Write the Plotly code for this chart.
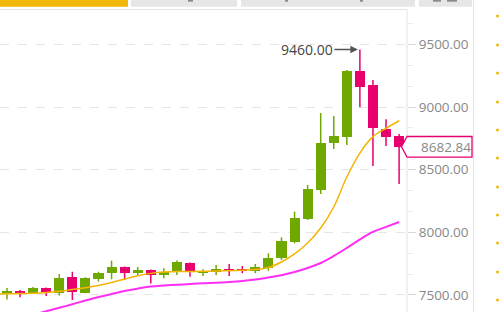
import plotly.graph_objects as go

# ---------------- data ----------------
idx = list(range(31))
opens = [7505, 7531, 7515, 7553, 7513, 7645, 7519, 7627, 7672, 7720, 7675, 7699, 7659, 7685, 7752, 7679,
         7679, 7707, 7705, 7691, 7712, 7792, 7925, 8104, 8338, 8711, 8764, 9288, 9177, 8825, 8769]
closes = [7531, 7510, 7553, 7523, 7639, 7526, 7633, 7677, 7725, 7677, 7699, 7659, 7685, 7765, 7679, 7693,
          7707, 7691, 7693, 7720, 7797, 7930, 8112, 8343, 8716, 8772, 9288, 9163, 8831, 8764, 8682.84]
highs = [7555, 7539, 7563, 7559, 7667, 7685, 7641, 7685, 7773, 7727, 7723, 7703, 7712, 7775, 7759, 7705,
         7739, 7747, 7731, 7747, 7832, 7960, 8165, 8378, 8953, 8929, 9296, 9460, 9216, 8903, 8785]
lows = [7463, 7481, 7507, 7491, 7495, 7459, 7513, 7607, 7625, 7619, 7651, 7591, 7633, 7659, 7645, 7651,
        7659, 7651, 7673, 7673, 7693, 7779, 7912, 8098, 8306, 8665, 8697, 8998, 8530, 8689, 8386]

ma_x = list(range(-1, 31))
ma_fast = [7507, 7509, 7511, 7513, 7519, 7529, 7543, 7557, 7575, 7599, 7627, 7653, 7672, 7683, 7687, 7687,
           7688, 7691, 7693, 7697, 7703, 7719, 7763, 7827, 7915, 8034, 8202, 8442, 8633, 8764, 8831, 8891]
ma_slow = [7260, 7286, 7313, 7341, 7369, 7397, 7425, 7455, 7483, 7507, 7531, 7550, 7567, 7575, 7581, 7587,
           7593, 7597, 7603, 7611, 7623, 7639, 7657, 7683, 7715, 7755, 7811, 7875, 7943, 8003, 8043, 8082]

tick_vals = [7500, 8000, 8500, 9000, 9500]
tick_text = ["7500.00", "8000.00", "8500.00", "9000.00", "9500.00"]
peak_label = "9460.00"
peak_index = 27
peak_value = 9460
last_price = 8682.84
last_label = "8682.84"

# ---------------- style ----------------
UP = "#6fa800"
DOWN = "#e8006f"
FAST = "#f5b400"
SLOW = "#ff2ef5"
W, H = 500, 312
PL, PR, PT, PB = 0, 93, 10, 0
PW, PH = W - PL - PR, H - PT - PB


def px(x):
    return (x - PL) / PW


def py(y):
    return (H - PB - y) / PH


fig = go.Figure()

# wicks
for col, cond in ((UP, lambda o, c: c >= o), (DOWN, lambda o, c: c < o)):
    wx, wy = [], []
    for i, o, c, h, l in zip(idx, opens, closes, highs, lows):
        if cond(o, c):
            wx += [i, i, None]
            wy += [l, h, None]
    fig.add_trace(go.Scatter(x=wx, y=wy, mode="lines", line=dict(color=col, width=1.5),
                             hoverinfo="skip", showlegend=False))

# bodies
base = [min(o, c) for o, c in zip(opens, closes)]
height = [max(abs(c - o), 8) for o, c in zip(opens, closes)]
colors = [UP if c >= o else DOWN for o, c in zip(opens, closes)]
fig.add_trace(go.Bar(x=idx, y=height, base=base, width=0.77, marker=dict(color=colors, line=dict(width=0)),
                     showlegend=False, hoverinfo="skip"))

# moving averages
fig.add_trace(go.Scatter(x=ma_x, y=ma_fast, mode="lines", line=dict(color=FAST, width=1.5, shape="spline"),
                         showlegend=False, hoverinfo="skip"))
fig.add_trace(go.Scatter(x=ma_x, y=ma_slow, mode="lines", line=dict(color=SLOW, width=2, shape="spline"),
                         showlegend=False, hoverinfo="skip"))

x0 = -7 / 13.07
x1 = (407 - 7) / 13.07
ytop = 9500 + (44.5 - PT) / 0.1252
ybot = 9500 - (H - 44.5) / 0.1252

shapes = []
# tab bar
shapes.append(dict(type="rect", xref="paper", yref="paper", x0=px(0), x1=px(128), y0=py(0), y1=py(6.7),
                   fillcolor="#f0b90b", line=dict(width=0), layer="above"))
for a, b in ((131, 237), (241, 415), (419, 472)):
    shapes.append(dict(type="rect", xref="paper", yref="paper", x0=px(a), x1=px(b), y0=py(0), y1=py(6.7),
                       fillcolor="#e6e6e6", line=dict(width=0), layer="above"))
for a, b in ((188, 193), (285, 288), (360, 363), (433, 441), (447, 457)):
    shapes.append(dict(type="rect", xref="paper", yref="paper", x0=px(a), x1=px(b), y0=py(0), y1=py(1.7),
                       fillcolor="#8a8a8a", line=dict(width=0), layer="above"))
# panel borders
shapes.append(dict(type="line", xref="paper", yref="paper", x0=px(0), x1=px(407), y0=py(9.5), y1=py(9.5),
                   line=dict(color="#e3e3e3", width=1)))
shapes.append(dict(type="line", xref="paper", yref="paper", x0=px(407), x1=px(407), y0=py(9.5), y1=py(312),
                   line=dict(color="#e3e3e3", width=1)))
shapes.append(dict(type="line", xref="paper", yref="paper", x0=px(473.5), x1=px(473.5), y0=py(0), y1=py(312),
                   line=dict(color="#e3e3e3", width=1)))
# bullet dots on the far right
for yy in (16, 45, 73, 102, 130, 158, 187, 215, 243, 272, 300):
    shapes.append(dict(type="circle", xref="paper", yref="paper", x0=px(496), x1=px(499), y0=py(yy - 1.5),
                       y1=py(yy + 1.5), fillcolor="#f0b90b", line=dict(width=0)))
# last price pointer box
shapes.append(dict(type="path", xref="paper", yref="y", xsizemode="pixel", ysizemode="pixel",
                   xanchor=1, yanchor=last_price,
                   path="M -5.5,0 L 0,10.3 L 65,10.3 L 65,-10.3 L 0,-10.3 Z",
                   fillcolor="white", line=dict(color=DOWN, width=1.3), layer="above"))

annotations = [
    dict(x=peak_index, y=peak_value, xref="x", yref="y", text=peak_label, showarrow=True,
         ax=-53, ay=0, arrowhead=2, arrowsize=1, arrowwidth=1.5, arrowcolor="#555", standoff=2,
         font=dict(family="Open Sans", size=14, color="#444")),
    dict(x=px(418.5), y=last_price, xref="paper", yref="y", text=last_label, showarrow=False,
         xanchor="left", yanchor="middle", font=dict(family="Open Sans", size=13.5, color="#888")),
]

fig.update_layout(
    width=W, height=H, margin=dict(l=PL, r=PR, t=PT, b=PB, pad=0),
    paper_bgcolor="white", plot_bgcolor="white", bargap=0, showlegend=False,
    shapes=shapes, annotations=annotations,
    xaxis=dict(range=[x0, x1], visible=False, showgrid=False, zeroline=False),
    yaxis=dict(range=[ybot, ytop], side="right", tickvals=tick_vals, ticktext=tick_text,
               showgrid=True, gridcolor="#e6e6e6", griddash="dash", gridwidth=1, zeroline=False,
               ticks="outside", ticklen=8, tickcolor="#d9d9d9", tickwidth=1,
               minor=dict(tick0=7500, dtick=500 / 3, ticks="outside", ticklen=5, tickcolor="#ececec",
                          showgrid=False),
               tickfont=dict(family="Open Sans", size=13.5, color="#888"), showline=False),
)

fig.write_html("out.html")
